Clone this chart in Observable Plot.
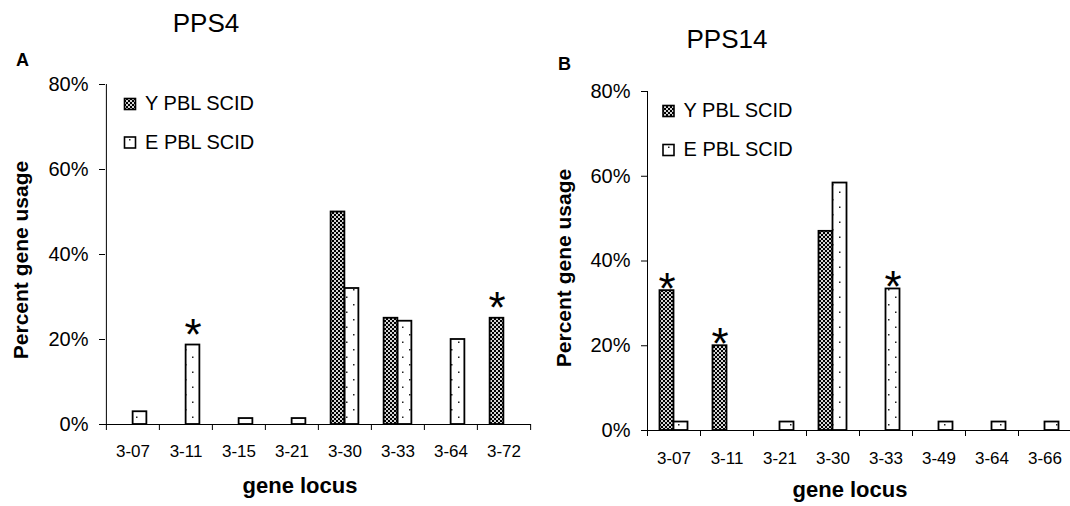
<!DOCTYPE html>
<html>
<head>
<meta charset="utf-8">
<script src="https://cdn.jsdelivr.net/npm/d3@7"></script>
<script src="https://cdn.jsdelivr.net/npm/@observablehq/plot@0.6"></script>
<style>
  html, body { margin: 0; padding: 0; background: #fff; overflow: hidden; }
  #root { position: relative; width: 1070px; height: 506px; overflow: hidden; background: #fff;
          font-family: "Liberation Sans", Arial, sans-serif; }
  #root > svg { position: absolute; top: 0; }
</style>
</head>
<body>
<div id="root"></div>
<script>
// ---------- data ----------
const seriesNames = ["Y PBL SCID", "E PBL SCID"];
const yTicks = [0, 20, 40, 60, 80];

// Panel A: PPS4
const lociA = ["3-07", "3-11", "3-15", "3-21", "3-30", "3-33", "3-64", "3-72"];
const youngA = [null, null, null, null, 50, 25, null, 25];
const elderA = [3, 18.7, 1.4, 1.4, 32, 24.3, 20, null];
const starYoungA = ["3-72"];
const starElderA = ["3-11"];

// Panel B: PPS14
const lociB = ["3-07", "3-11", "3-21", "3-30", "3-33", "3-49", "3-64", "3-66"];
const youngB = [33, 20, null, 47, null, null, null, null];
const elderB = [2, null, 2, 58.4, 33.4, 2, 2, 2];
const starYoungB = ["3-07", "3-11"];
const starElderB = ["3-33"];

const FONT = "Liberation Sans, Arial, sans-serif";
const root = d3.select("#root");

// ---------- overlay (patterns, titles, legends, axis titles) ----------
const ov = root.append("svg").attr("width", 1070).attr("height", 506)
  .style("left", "0px").style("z-index", 2).style("pointer-events", "none")
  .attr("font-family", FONT);
const defs = ov.append("defs");
const chk = defs.append("pattern").attr("id", "chk").attr("patternUnits", "userSpaceOnUse")
  .attr("width", 4).attr("height", 4);
chk.append("rect").attr("width", 4).attr("height", 4).attr("fill", "#d4d4d4");
chk.append("rect").attr("width", 2).attr("height", 2).attr("fill", "#000");
chk.append("rect").attr("x", 2).attr("y", 2).attr("width", 2).attr("height", 2).attr("fill", "#000");
const dots = defs.append("pattern").attr("id", "dots").attr("patternUnits", "userSpaceOnUse")
  .attr("width", 14).attr("height", 15);
dots.append("rect").attr("width", 14).attr("height", 15).attr("fill", "#fff");
dots.append("rect").attr("x", 3).attr("y", 4).attr("width", 1.5).attr("height", 1.5).attr("fill", "#222");
dots.append("rect").attr("x", 10).attr("y", 11.5).attr("width", 1.5).attr("height", 1.5).attr("fill", "#222");

function txt(s, x, y, opts = {}) {
  const t = ov.append("text").attr("x", x).attr("y", y).text(s)
    .attr("font-size", opts.size || 16).attr("fill", "#000")
    .attr("text-anchor", opts.anchor || "start");
  if (opts.bold) t.attr("font-weight", "bold");
  if (opts.rotate) t.attr("transform", `rotate(-90 ${x} ${y})`);
  return t;
}

// Panel titles
txt("PPS4", 206, 32, {size: 26, anchor: "middle"});
txt("A", 16, 66, {size: 18, bold: true});
txt("PPS14", 727, 48, {size: 26, anchor: "middle"});
txt("B", 558, 70, {size: 18, bold: true});

// Axis titles
txt("Percent gene usage", 28, 260, {size: 21, bold: true, anchor: "middle", rotate: true});
txt("Percent gene usage", 571, 268, {size: 21, bold: true, anchor: "middle", rotate: true});
txt("gene locus", 300, 493, {size: 22, bold: true, anchor: "middle"});
txt("gene locus", 850, 497, {size: 22, bold: true, anchor: "middle"});

// Legends
function legend(x, yRows) {
  const fills = ["url(#chk)", "url(#dots)"];
  seriesNames.forEach((name, i) => {
    ov.append("rect").attr("x", x).attr("y", yRows[i] - 11.5).attr("width", 11).attr("height", 11)
      .attr("fill", fills[i]).attr("stroke", "#000").attr("stroke-width", 1.6);
    txt(name, x + 20.5, yRows[i], {size: 20});
  });
}
legend(124.5, [110, 148.5]);
legend(663, [117, 156]);

// ---------- panels ----------
function panel({loci, young, elder, starY, starE, left, width, ml, mr, mt, mb, starLift}) {
  const rows = [];
  loci.forEach((l, i) => {
    if (young[i] != null) rows.push({locus: l, s: "Y", v: young[i]});
    if (elder[i] != null) rows.push({locus: l, s: "E", v: elder[i]});
  });
  const Y = rows.filter(d => d.s === "Y");
  const E = rows.filter(d => d.s === "E");
  const bw = (width - ml - mr) / loci.length;
  const barW = 14;
  const starsY = Y.filter(d => starY.includes(d.locus));
  const starsE = E.filter(d => starE.includes(d.locus));

  const svg = Plot.plot({
    width, height: 506,
    marginLeft: ml, marginRight: mr, marginTop: mt, marginBottom: mb,
    style: {fontFamily: FONT, color: "#000", background: "transparent", overflow: "visible"},
    x: {type: "band", domain: loci, padding: 0, axis: null, label: null},
    y: {domain: [0, 80], axis: null, label: null},
    marks: [
      Plot.barY(Y, {x: "locus", y: "v", fill: "url(#chk)", stroke: "#000", strokeWidth: 1.8,
                    insetLeft: bw / 2 - barW, insetRight: bw / 2}),
      Plot.barY(E, {x: "locus", y: "v", fill: "url(#dots)", stroke: "#000", strokeWidth: 1.8,
                    insetLeft: bw / 2, insetRight: bw / 2 - barW}),
      Plot.ruleY([0], {stroke: "#000", strokeWidth: 1}),
      Plot.ruleX([loci[0]], {x: d => d, y1: 0, y2: 80, dx: -bw / 2, stroke: "#000", strokeWidth: 1}),
      Plot.axisY({ticks: yTicks, tickSize: 6, tickPadding: 11, tickFormat: d => d + "%",
                  fontSize: 20, label: null}),
      Plot.axisX({ticks: loci, tickSize: 6, tickFormat: () => "", dx: -bw / 2, label: null}),
      Plot.axisX({ticks: [loci[loci.length - 1]], tickSize: 6, tickFormat: () => "", dx: bw / 2, label: null}),
      Plot.axisX({ticks: loci, tickSize: 0, tickPadding: mb === 82 ? 20 : 21, fontSize: 17, label: null}),
      Plot.text(starsY, {x: "locus", y: "v", text: () => "*", dx: -barW / 2, dy: starLift,
                         lineAnchor: "bottom", fontSize: 44}),
      Plot.text(starsE, {x: "locus", y: "v", text: () => "*", dx: barW / 2, dy: starLift,
                         lineAnchor: "bottom", fontSize: 44})
    ]
  });
  d3.select(svg).style("position", "absolute").style("left", left + "px").style("top", "0px").style("z-index", 1);
  root.node().appendChild(svg);
}

panel({loci: lociA, young: youngA, elder: elderA, starY: starYoungA, starE: starElderA,
       left: 0, width: 535, ml: 105, mr: 4, mt: 84, mb: 82, starLift: 5});
panel({loci: lociB, young: youngB, elder: elderB, starY: starYoungB, starE: starElderB,
       left: 535, width: 540, ml: 112, mr: 4, mt: 91, mb: 76, starLift: 13});
</script>
</body>
</html>
